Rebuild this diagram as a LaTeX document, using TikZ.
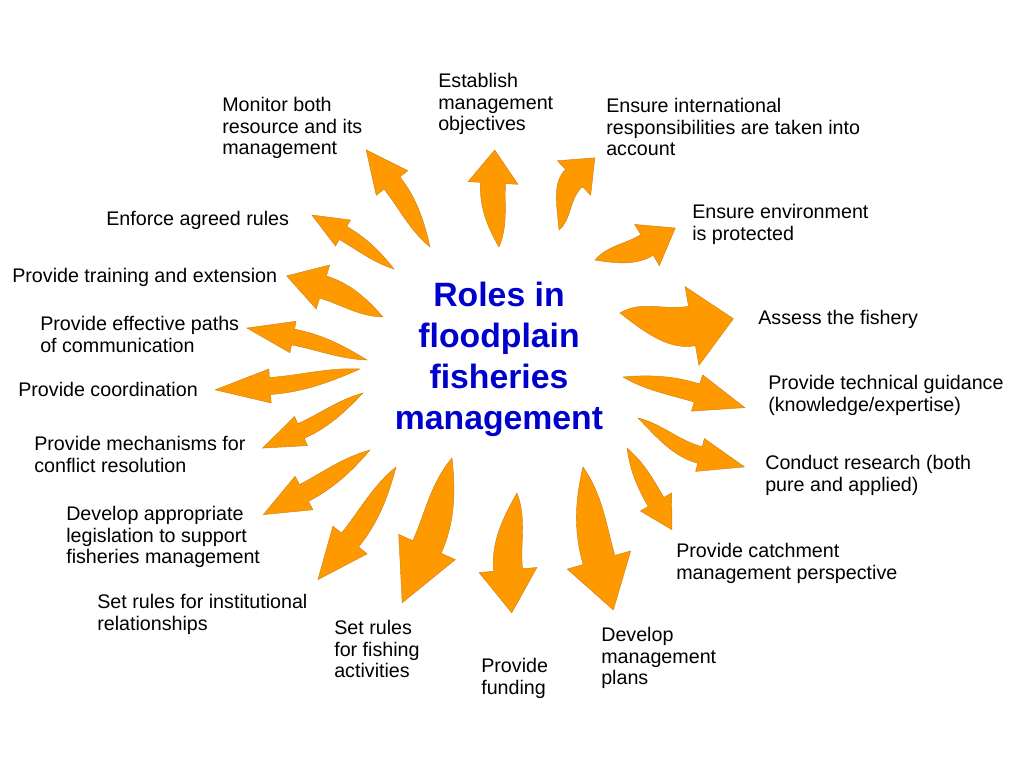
\documentclass[tikz,border=0pt]{standalone}
\usepackage{fontspec}
\setmainfont{Liberation Sans}
\usetikzlibrary{calc}

\definecolor{roleorange}{RGB}{255,153,0}
\definecolor{roleedge}{RGB}{205,125,20}
\definecolor{roleblue}{RGB}{0,0,204}

% curved block arrow: tail x, tail y, head base x, head base y, head angle, head length, head half width
\newcommand{\rolearrow}[7]{%
  \pgfmathsetmacro\raL{#5+90}%
  \pgfmathsetmacro\raR{#5-90}%
  \pgfmathsetmacro\raB{#5+180}%
  \pgfmathsetmacro\raW{0.5*#7}%
  \pgfmathsetmacro\raN{0.45*#7}%
  \pgfmathsetmacro\raC{0.35*veclen(#3-#1,#4-#2)}%
  \coordinate (tail) at (#1,#2);
  \coordinate (base) at (#3,#4);
  \draw[blockarrow] (tail)
    .. controls ($(tail)!0.35!(base)+(\raL:\raN)$) and ($(base)+(\raL:\raW)+(\raB:\raC)$) .. ($(base)+(\raL:\raW)$)
    -- ($(base)+(\raL:#7)$) -- ($(base)+(#5:#6)$) -- ($(base)+(\raR:#7)$)
    -- ($(base)+(\raR:\raW)$)
    .. controls ($(base)+(\raR:\raW)+(\raB:\raC)$) and ($(tail)!0.35!(base)+(\raR:\raN)$) .. (tail) -- cycle;
}

\begin{document}
\begin{tikzpicture}[
                x=0.025cm, y=-0.025cm,
                roletext/.style={font=\fontsize{14}{15.3}\selectfont, align=left, anchor=north west, inner sep=0pt},
                title/.style={font=\fontsize{24}{29.2}\selectfont\bfseries, text=roleblue, align=center, inner sep=0pt},
                blockarrow/.style={fill=roleorange, draw=roleedge, line width=0.3pt, line join=miter}
            ]
                \useasboundingbox (0,0) rectangle (1024,768);

                % Centre
                \node (roles) [title] at (499,359) {Roles in\\floodplain\\fisheries\\management};

                % Roles
                \node (monitor) [roletext] at (222,97) {Monitor both\\resource and its\\management};
                \node (establish) [roletext] at (438,73) {Establish\\management\\objectives};
                \node (international) [roletext] at (606,98) {Ensure international\\responsibilities are taken into\\account};
                \node (environment) [roletext] at (692,204) {Ensure environment\\is protected};
                \node (assess) [roletext] at (758,310) {Assess the fishery};
                \node (technical) [roletext] at (768,375) {Provide technical guidance\\(knowledge/expertise)};
                \node (research) [roletext] at (765,455) {Conduct research (both\\pure and applied)};
                \node (catchment) [roletext] at (676,543) {Provide catchment\\management perspective};
                \node (plans) [roletext] at (601,627) {Develop\\management\\plans};
                \node (funding) [roletext] at (481,658) {Provide\\funding};
                \node (fishing) [roletext] at (334,620) {Set rules\\for fishing\\activities};
                \node (institutional) [roletext] at (97,594) {Set rules for institutional\\relationships};
                \node (legislation) [roletext] at (66,506) {Develop appropriate\\legislation to support\\fisheries management};
                \node (conflict) [roletext] at (34,436) {Provide mechanisms for\\conflict resolution};
                \node (coordination) [roletext] at (18,382) {Provide coordination};
                \node (paths) [roletext] at (40,316) {Provide effective paths\\of communication};
                \node (training) [roletext] at (12,268) {Provide training and extension};
                \node (enforce) [roletext] at (106,211) {Enforce agreed rules};

                % Arrows
                \rolearrow{430}{247}{392}{183}{232}{42}{20}
                \rolearrow{499}{247}{493}{183}{273}{33}{25}
                \rolearrow{559}{230}{574}{178}{316}{29}{24}
                \rolearrow{595}{260}{647}{245}{329}{33}{24}
                \rolearrow{620}{313}{692}{326}{350}{42}{40}
                \rolearrow{623}{377}{697}{393}{17}{50}{19}
                \rolearrow{638}{418}{700}{455}{15}{46}{17}
                \rolearrow{627}{448}{656}{502}{60}{32}{18}
                \rolearrow{583}{467}{599}{560}{74}{52}{33}
                \rolearrow{517}{493}{508}{570}{85}{43}{29}
                \rolearrow{452}{458}{427}{547}{114}{61}{31}
                \rolearrow{396}{467}{350}{540}{129}{51}{22}
                \rolearrow{370}{450}{304}{493}{152}{46}{19}
                \rolearrow{363}{393}{301}{431}{156}{42}{16}
                \rolearrow{360}{369}{270}{386}{176}{55}{17}
                \rolearrow{367}{360}{293}{337}{191}{47}{16}
                \rolearrow{383}{317}{323}{287}{197}{38}{23}
                \rolearrow{394}{269}{343}{233}{210}{36}{15}

            \end{tikzpicture}
\end{document}
